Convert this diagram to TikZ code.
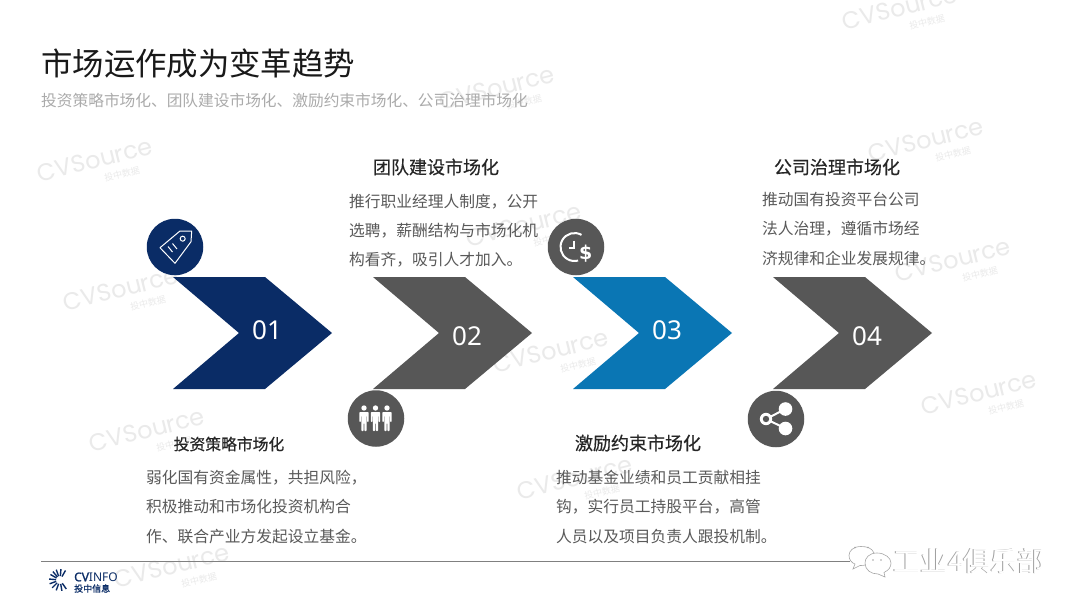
\documentclass[tikz,border=0pt]{standalone}
\usepackage{fontspec}
\setmainfont{Noto Sans CJK SC}
\newfontfamily\latinf{Noto Sans}
\newfontfamily\cvb[FakeBold=1.5]{Noto Sans}
\newfontfamily\headf[FakeBold=0.5]{Noto Sans CJK SC}
\newfontfamily\wmf{Poppins}
\newfontfamily\dollarf{DejaVu Sans}
\usetikzlibrary{calc}
\definecolor{navy}{HTML}{0A2C66}
\definecolor{dgray}{HTML}{575757}
\definecolor{cblue}{HTML}{0A76B4}
\definecolor{bodyc}{HTML}{595959}
\definecolor{subc}{HTML}{ABABAB}
\definecolor{wm}{HTML}{EAEAEA}
\tikzset{
 num/.style={text=white,font=\latinf\fontsize{26}{26}\selectfont,inner sep=0},
 disc/.style={circle,minimum size=56.5pt,inner sep=0},
 head/.style={text=black!85,font=\headf\fontsize{18}{18}\selectfont,inner sep=0},
 smallhead/.style={head,font=\headf\fontsize{15.8}{16}\selectfont},
 bodyt/.style={text=bodyc,font=\fontsize{15.75}{29.4}\selectfont,inner sep=0,anchor=north west,align=left},
 wmark/.style={text=wm,rotate=14,font=\wmf\fontsize{24}{24}\selectfont,inner sep=0},
 wmsmall/.style={text=wm,rotate=14,font=\fontsize{9}{9}\selectfont,inner sep=0},
}
\newcommand{\wmk}[3]{%
 \node[wmark] (#3a) at (#1,#2) {CVSource};
 \node[wmsmall] (#3b) at (#1+27,#2+14) {投中数据};
}
\newcommand{\chevron}[2]{%
 \fill[#2] (#1,277) -- ++(92,0) -- ++(67,56) -- ++(-67,56) -- ++(-92,0) -- ++(66,-56) -- cycle;
}
\begin{document}
\begin{tikzpicture}[x=1pt,y=-1pt]
\useasboundingbox (0,0) rectangle (1080,608);
\fill[white] (0,0) rectangle (1080,608);
% watermarks
\wmk{900}{8}{w1}
\wmk{497}{88}{w2}
\wmk{95}{160}{w3}
\wmk{926}{140}{w4}
\wmk{121}{289}{w5}
\wmk{524}{225}{w6}
\wmk{953}{260}{w7}
\wmk{551}{351}{w8}
\wmk{147}{430}{w9}
\wmk{979}{393}{w10}
\wmk{575}{478}{w11}
\wmk{172}{566}{w12}
% titles
\node[anchor=west,inner sep=0,text=black!90,font=\fontsize{31.4}{31}\selectfont] (title) at (41,64) {市场运作成为变革趋势};
\node[anchor=west,inner sep=0,text=subc,font=\fontsize{15.7}{15}\selectfont] (sub) at (41,101) {投资策略市场化、团队建设市场化、激励约束市场化、公司治理市场化};
% chevrons
\chevron{173}{navy}
\chevron{373}{dgray}
\chevron{573}{cblue}
\chevron{773}{dgray}
\node[num] (n1) at (267,330) {01};
\node[num] (n2) at (467,336) {02};
\node[num] (n3) at (667,330) {03};
\node[num] (n4) at (867,336) {04};
% discs
\node[disc,fill=navy] (d1) at (175,247) {};
\node[disc,fill=dgray] (d2) at (376,418.5) {};
\node[disc,fill=dgray] (d3) at (576,247) {};
\node[disc,fill=dgray] (d4) at (776,419) {};
% tag icon
\draw[white,line width=1pt,line join=round] (160,247.7) -- (175,263.3) -- (191,241.7) -- (191.7,231) -- (180,231) -- cycle;
\draw[white,line width=1pt] (182.7,238.7) circle (2.5);
\draw[white,line width=1pt] (168,246.5) -- (172.5,252) (172.5,243.5) -- (177,249);
% people icon
\foreach \px in {364,375.5,387}{
 \fill[white] (\px,408) circle (2.7);
 \fill[white,rounded corners=.8pt] (\px-4.6,412) -- (\px+4.6,412) -- (\px+4.6,422) -- (\px+3.2,422) -- (\px+3.2,415.5) -- (\px+2.7,415.5) -- (\px+2.7,431) -- (\px+.4,431) -- (\px+.4,423) -- (\px-.4,423) -- (\px-.4,431) -- (\px-2.7,431) -- (\px-2.7,415.5) -- (\px-3.2,415.5) -- (\px-3.2,422) -- (\px-4.6,422) -- cycle;
}
% clock-dollar icon
\draw[white,line width=2pt] (581.5,234.9) arc[start angle=-60,end angle=-285,radius=14];
\draw[white,line width=1.8pt] (574.3,240.7) -- (574.3,248) -- (569,248);
\node[text=white,inner sep=0,font=\dollarf\bfseries\fontsize{19}{19}\selectfont] (dollar) at (585.7,254) {\$};
% share icon
\coordinate (s1) at ($(d4.center)+(-10,0)$);
\coordinate (s2) at ($(d4.center)+(9.5,-10)$);
\coordinate (s3) at ($(d4.center)+(9.5,9.5)$);
\draw[white,line width=2pt] (s1) -- (s2) (s1) -- (s3);
\fill[white] (s2) circle (6.8) (s3) circle (6.8);
\fill[white] (s1) circle (6.2);
\fill[dgray] (s1) circle (3.2);
% headings
\node[head] (h2) at (436,167) {团队建设市场化};
\node[head] (h4) at (837,167) {公司治理市场化};
\node[smallhead] (h1) at (229,444) {投资策略市场化};
\node[head] (h3) at (638,443) {激励约束市场化};
% body
\node[bodyt] (b2) at (349,193.5) {推行职业经理人制度，公开\\选聘，薪酬结构与市场化机\\构看齐，吸引人才加入。};
\node[bodyt] (b4) at (762,192) {推动国有投资平台公司\\法人治理，遵循市场经\\济规律和企业发展规律。};
\node[bodyt] (b1) at (146,470) {弱化国有资金属性，共担风险，\\积极推动和市场化投资机构合\\作、联合产业方发起设立基金。};
\node[bodyt] (b3) at (556,470) {推动基金业绩和员工贡献相挂\\钩，实行员工持股平台，高管\\人员以及项目负责人跟投机制。};
% footer
\coordinate (fl) at (41,561.5);
\coordinate (fr) at (850,561.5);
\draw[gray,line width=.8pt] (fl) -- (fr);
\coordinate (lg) at (60,580);
\foreach \a in {-110,-85,-60,-175,-150,-130,160,135,110,80,55}{
 \draw[navy,line width=1.4pt] ($(lg)+(\a:4)$) -- ($(lg)+(\a:11)$);
}
\node[anchor=west,inner sep=0,text=navy,font=\latinf\fontsize{12}{12}\selectfont] (cv) at (74,577) {{\cvb CV}INFO};
\node[anchor=west,inner sep=0,text=navy,font=\headf\fontsize{9}{9}\selectfont] (tz) at (74,588.5) {投中信息};
% wechat mark
\draw[gray!70,line width=.6pt,fill=white] (861,546.5) .. controls (853,546.5) and (849,551) .. (849,555.5) .. controls (849,560) and (852,563) .. (855,564) -- (853,569) -- (860,565.5) .. controls (868,566) and (878,560) .. (874,553) .. controls (872,548) and (867,546.5) .. (861,546.5) -- cycle;
\draw[gray!70,line width=.6pt,fill=white] (877,553) .. controls (869,553) and (865,558) .. (865,563) .. controls (865,570) and (871,574) .. (878,574) -- (885,577) -- (884,572.5) .. controls (889,570) and (891,567) .. (891,563) .. controls (891,558) and (885,553) .. (877,553) -- cycle;
\fill[gray!70] (855,547.5) circle (.8) (868,547.5) circle (.8) (873,560) circle (.8) (881,560) circle (.8);
\node[inner sep=0,text=gray!75,font=\fontsize{27.3}{27}\selectfont] (wcs) at (968.4,561.5) {工业4俱乐部};
\node[inner sep=0,text=white,font=\fontsize{27.3}{27}\selectfont] (wct) at (969.4,560.7) {工业4俱乐部};
\end{tikzpicture}
\end{document}
